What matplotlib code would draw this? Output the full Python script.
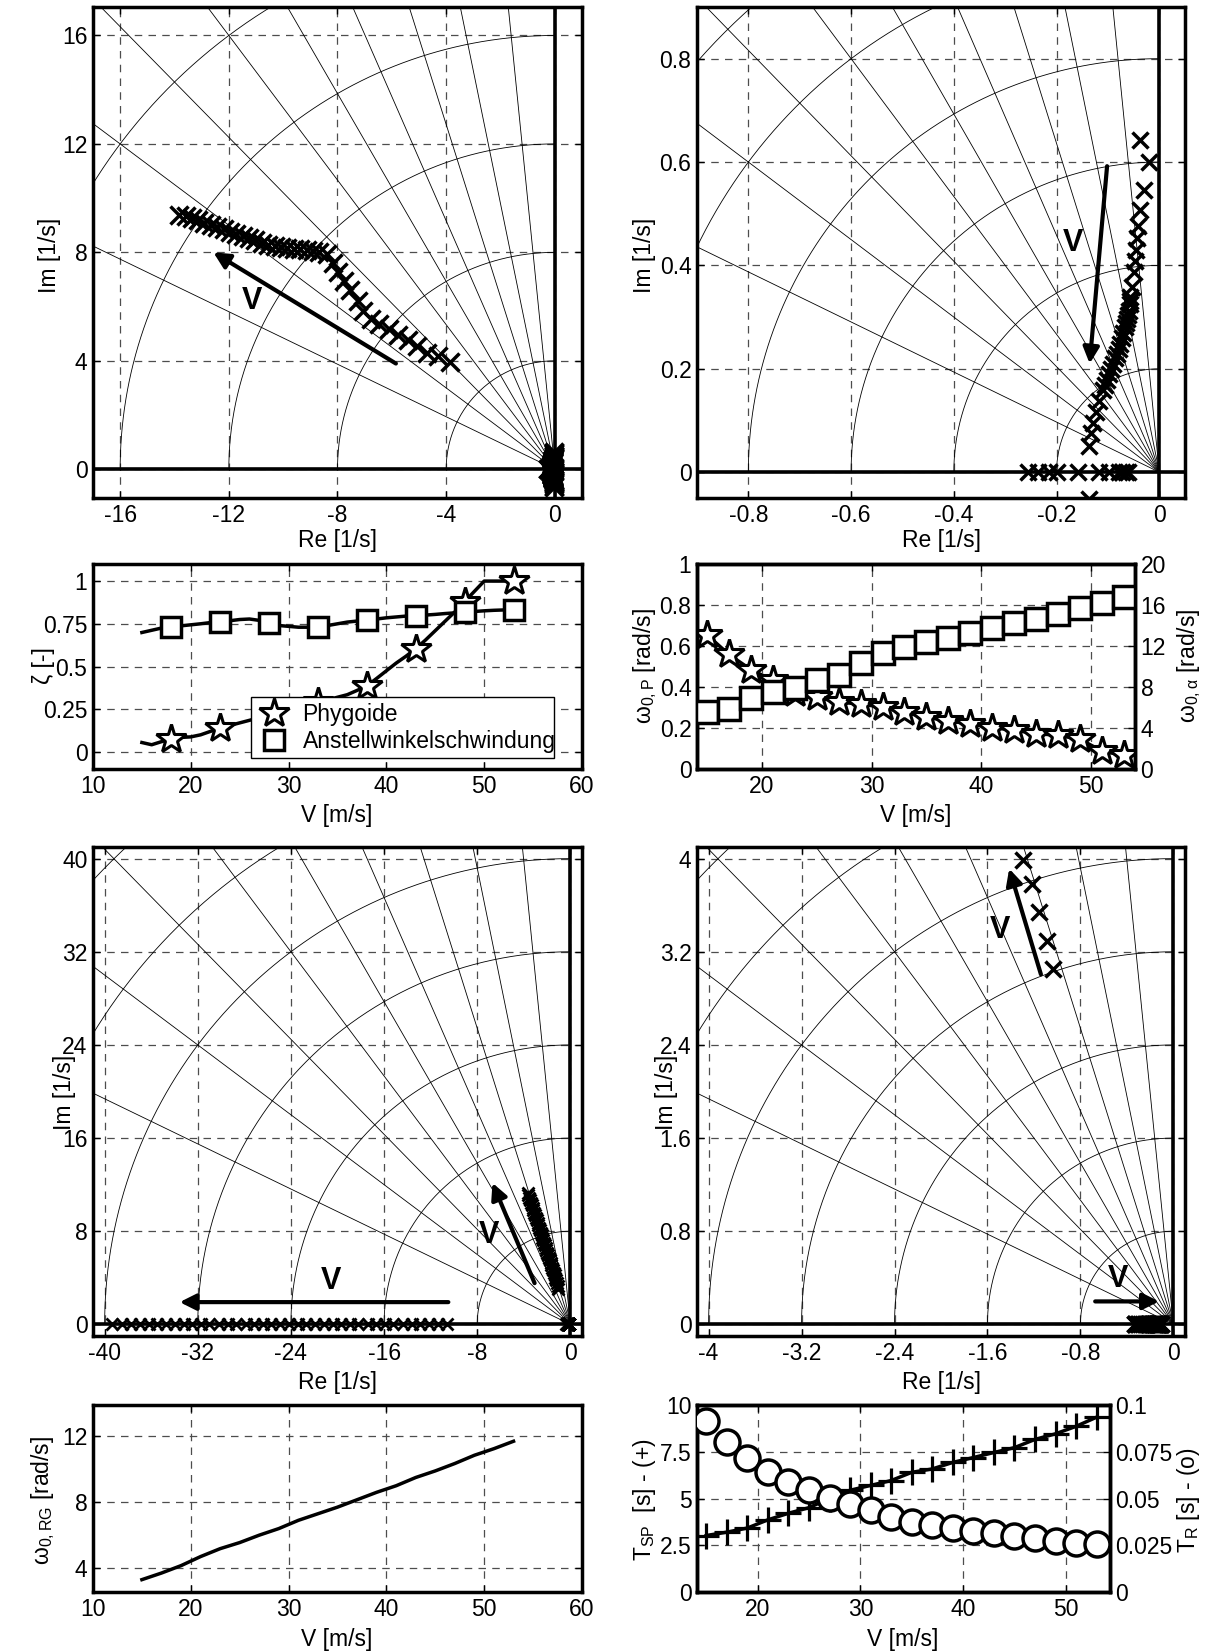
import numpy as np
import matplotlib
matplotlib.use("Agg")
import matplotlib.pyplot as plt
from matplotlib.lines import Line2D

plt.rcParams['font.family'] = ['Liberation Sans', 'DejaVu Sans']
plt.rcParams['mathtext.fontset'] = 'custom'
plt.rcParams['mathtext.rm'] = 'Liberation Sans'
plt.rcParams['mathtext.it'] = 'Liberation Sans:italic'
plt.rcParams['mathtext.sf'] = 'Liberation Sans'
FS = 16.5
plt.rcParams['font.size'] = FS

# ---------------- data ----------------
# flight speeds of the root-locus sweep (1 m/s steps) and of the summary plots (2 m/s steps)
v_locus = list(range(15, 54))
v_coarse = list(range(15, 54, 2))

# short-period (angle of attack) poles, upper half plane
aoa_re = [-3.86, -4.29, -4.71, -5.06, -5.42, -5.77, -6.12, -6.48, -6.76, -7.05,
          -7.26, -7.54, -7.75, -7.97, -8.18, -8.39, -8.67, -8.91, -9.14, -9.38,
          -9.61, -9.85, -10.09, -10.31, -10.55, -10.78, -11.02, -11.25, -11.49, -11.73,
          -11.96, -12.19, -12.42, -12.66, -12.90, -13.12, -13.37, -13.59, -13.84]
aoa_im = [3.97, 4.17, 4.30, 4.56, 4.76, 4.96, 5.16, 5.36, 5.56, 5.82,
          6.22, 6.62, 6.94, 7.28, 7.61, 7.94, 8.03, 8.06, 8.08, 8.11,
          8.14, 8.16, 8.20, 8.23, 8.28, 8.36, 8.44, 8.52, 8.60, 8.68,
          8.76, 8.85, 8.93, 9.01, 9.10, 9.18, 9.26, 9.33, 9.39]

# phugoid poles (complex branch, upper half plane) and real poles after the split
phug_re = [-0.038, -0.020, -0.030, -0.038, -0.041, -0.043, -0.045, -0.047, -0.049, -0.053,
           -0.0565, -0.0573, -0.058, -0.0595, -0.061, -0.0625, -0.065, -0.067, -0.070, -0.073,
           -0.076, -0.079, -0.083, -0.087, -0.090, -0.094, -0.098, -0.102, -0.106, -0.109,
           -0.117, -0.124, -0.130, -0.133, -0.136]
phug_im = [0.643, 0.601, 0.545, 0.507, 0.477, 0.453, 0.429, 0.408, 0.387, 0.359,
           0.339, 0.332, 0.325, 0.311, 0.304, 0.297, 0.288, 0.280, 0.270, 0.259,
           0.248, 0.238, 0.229, 0.221, 0.210, 0.200, 0.190, 0.179, 0.168, 0.158,
           0.137, 0.117, 0.096, 0.075, 0.051]
phug_real = [-0.256, -0.237, -0.215, -0.200, -0.158, -0.117, -0.098, -0.079, -0.072, -0.065, -0.060]

# lateral motion: roll subsidence, Dutch roll (upper half plane), spiral
roll_re = [-10.6, -11.4, -12.1, -12.9, -13.6, -14.4, -15.2, -15.9, -16.7, -17.4,
           -18.2, -18.9, -19.7, -20.4, -21.2, -21.9, -22.7, -23.4, -24.2, -24.9,
           -25.7, -26.4, -27.2, -27.9, -28.7, -29.4, -30.2, -31.0, -31.7, -32.5,
           -33.2, -34.0, -34.7, -35.5, -36.2, -37.0, -37.7, -38.5, -39.4]
dr_re = [-1.04, -1.09, -1.16, -1.22, -1.29, -1.35, -1.42, -1.49, -1.56, -1.63,
         -1.70, -1.77, -1.84, -1.91, -1.98, -2.05, -2.12, -2.19, -2.26, -2.33,
         -2.40, -2.47, -2.54, -2.61, -2.68, -2.75, -2.82, -2.89, -2.96, -3.03,
         -3.10, -3.17, -3.24, -3.31, -3.38, -3.45, -3.52, -3.60, -3.68]
dr_im = [3.05, 3.29, 3.54, 3.78, 3.99, 4.20, 4.42, 4.63, 4.85, 5.06,
         5.28, 5.49, 5.70, 5.92, 6.13, 6.35, 6.56, 6.78, 6.99, 7.21,
         7.42, 7.64, 7.85, 8.07, 8.28, 8.50, 8.71, 8.93, 9.14, 9.36,
         9.57, 9.79, 10.00, 10.22, 10.43, 10.65, 10.86, 11.08, 11.30]
spiral_re = [-0.333, -0.328, -0.323, -0.308, -0.294, -0.278, -0.260, -0.247, -0.238, -0.230,
             -0.222, -0.211, -0.200, -0.192, -0.183, -0.179, -0.175, -0.171, -0.168, -0.161,
             -0.156, -0.154, -0.152, -0.148, -0.144, -0.142, -0.139, -0.136, -0.134, -0.132,
             -0.129, -0.126, -0.123, -0.120, -0.118, -0.116, -0.113, -0.110, -0.106]

# damping ratios over speed (1 m/s steps)
zeta_phug = [0.055, 0.042, 0.060, 0.075, 0.085, 0.088, 0.100, 0.120, 0.139, 0.155,
             0.170, 0.185, 0.200, 0.215, 0.230, 0.245, 0.260, 0.275, 0.290, 0.305,
             0.320, 0.335, 0.360, 0.386, 0.430, 0.475, 0.520, 0.560, 0.604, 0.655,
             0.710, 0.765, 0.820, 0.880, 0.940, 1.000, 1.000, 1.000, 1.000]
zeta_aoa = [0.699, 0.712, 0.725, 0.733, 0.738, 0.744, 0.750, 0.757, 0.762, 0.768,
            0.775, 0.778, 0.770, 0.752, 0.740, 0.735, 0.730, 0.730, 0.733, 0.740,
            0.750, 0.760, 0.766, 0.772, 0.778, 0.785, 0.790, 0.795, 0.798, 0.801,
            0.805, 0.810, 0.814, 0.818, 0.822, 0.826, 0.829, 0.831, 0.832]

# natural frequencies and time constants (2 m/s steps)
omega_phug = [0.655, 0.559, 0.485, 0.433, 0.372, 0.350, 0.326, 0.317, 0.301, 0.276,
              0.252, 0.235, 0.219, 0.202, 0.189, 0.173, 0.164, 0.145, 0.087, 0.066]
omega_aoa = [5.53, 5.86, 6.91, 7.50, 7.89, 8.65, 9.21, 10.30, 11.28, 11.94,
             12.43, 12.76, 13.26, 13.75, 14.24, 14.67, 15.13, 15.66, 16.22, 16.78]
omega_dr = [3.30, 3.70, 4.15, 4.70, 5.18, 5.55, 6.00, 6.40, 6.90, 7.30,
            7.70, 8.15, 8.60, 9.00, 9.50, 9.90, 10.35, 10.85, 11.25, 11.70]
t_spiral = [3.02, 3.20, 3.42, 3.86, 4.21, 4.51, 5.00, 5.44, 5.70, 5.96,
            6.40, 6.58, 6.93, 7.19, 7.46, 7.72, 8.16, 8.46, 8.86, 9.35]
t_roll = [0.0915, 0.0800, 0.0715, 0.0640, 0.0590, 0.0545, 0.0505, 0.0470, 0.0440, 0.0400,
          0.0375, 0.0360, 0.0340, 0.0325, 0.0315, 0.0300, 0.0290, 0.0275, 0.0260, 0.0255]

zeta_grid_values = [0.1, 0.2, 0.3, 0.4, 0.5, 0.6, 0.7, 0.8, 0.9]

# ---------------- figure ----------------
W, H = 1207, 1651
fig = plt.figure(figsize=(W / 100, H / 100), dpi=100)


def add_ax(l, r, t, b):
    return fig.add_axes([l / W, 1 - b / H, (r - l) / W, (b - t) / H])


def frame(ax, right_ticks=True):
    for s in ax.spines.values():
        s.set_linewidth(2.5)
    ax.tick_params(direction='in', length=5, width=1, top=True, right=right_ticks,
                   labelsize=FS, pad=4)


def dashed_grid(ax):
    ax.grid(True, color='0.3', linestyle=(0, (6, 5)), linewidth=0.9)
    ax.set_axisbelow(True)


def label_at(ax, which, px, py):
    """Centre an axis label on a figure pixel position."""
    l, b, w, h = ax.get_position().bounds
    fx, fy = px / W, 1 - py / H
    ax_x = (fx - l) / w
    ax_y = (fy - b) / h
    if which == 'x':
        ax.xaxis.set_label_coords(ax_x, ax_y)
        ax.xaxis.label.set_verticalalignment('center')
    else:
        ax.yaxis.set_label_coords(ax_x, ax_y)
        ax.yaxis.label.set_verticalalignment('center')


def root_locus_axes(ax, xlim, ylim, step, xticks, yticks, xfmt, yfmt):
    xmin = xlim[0]
    reach = 3 * max(abs(xmin), ylim[1])
    for z in zeta_grid_values:
        th = np.arccos(z)
        ax.plot([0, -reach * np.cos(th)], [0, reach * np.sin(th)], color='k', lw=0.6, zorder=1)
    phi = np.linspace(np.pi / 2, np.pi, 300)
    k = 1
    while k * step < np.hypot(xmin, ylim[1]):
        r = k * step
        ax.plot(r * np.cos(phi), r * np.sin(phi), color='k', lw=0.6, zorder=1)
        k += 1
    ax.axhline(0, color='k', lw=2.6, zorder=2)
    ax.axvline(0, color='k', lw=2.6, zorder=2)
    ax.set_xlim(*xlim)
    ax.set_ylim(*ylim)
    ax.set_xticks(xticks)
    ax.set_yticks(yticks)
    ax.set_xticklabels([xfmt(v) for v in xticks])
    ax.set_yticklabels([yfmt(v) for v in yticks])
    dashed_grid(ax)
    frame(ax)
    ax.set_xlabel('Re [1/s]', fontsize=FS)
    ax.set_ylabel('Im [1/s]', fontsize=FS)


def arrow(ax, tail, head, text, text_xy):
    ax.annotate('', xy=head, xytext=tail,
                arrowprops=dict(arrowstyle='-|>', color='k', lw=3.0, mutation_scale=24,
                                shrinkA=0, shrinkB=0), zorder=6)
    ax.text(text_xy[0], text_xy[1], text, fontsize=22, fontweight='bold',
            ha='center', va='center', zorder=6)


def fmt_int(v):
    return '%d' % round(v)


def fmt_g(v):
    return '0' if abs(v) < 1e-12 else ('%g' % v)


xmark = dict(linestyle='none', marker='x', color='k', zorder=5)

# ---- top left: short period ----
ax1 = add_ax(93, 582, 7, 498)
root_locus_axes(ax1, (-17, 1), (-1.06, 17.05), 4, [-16, -12, -8, -4, 0], [0, 4, 8, 12, 16],
                fmt_int, fmt_int)
ax1.plot(aoa_re, aoa_im, ms=13, mew=2.5, **xmark)
ax1.plot(phug_re + phug_re + phug_real,
         phug_im + [-v for v in phug_im] + [0] * len(phug_real), ms=13, mew=2.5, **xmark)
arrow(ax1, (-5.85, 3.90), (-12.57, 8.0), 'V', (-11.16, 6.21))
label_at(ax1, 'y', 49, 255)
label_at(ax1, 'x', 337, 540)

# ---- top right: phugoid ----
ax2 = add_ax(697, 1185, 7, 498)
root_locus_axes(ax2, (-0.9, 0.05), (-0.05, 0.9), 0.2, [-0.8, -0.6, -0.4, -0.2, 0],
                [0, 0.2, 0.4, 0.6, 0.8], fmt_g, fmt_g)
ax2.plot(phug_re + phug_re + phug_real,
         phug_im + [-v for v in phug_im] + [0] * len(phug_real), ms=12, mew=2.5, **xmark)
arrow(ax2, (-0.1017, 0.592), (-0.1356, 0.210), 'V', (-0.168, 0.443))
label_at(ax2, 'y', 645, 255)
label_at(ax2, 'x', 941, 540)

# ---- second row left: damping ratios ----
ax5 = add_ax(93, 582, 564, 769)
ax5.plot(v_locus, zeta_phug, color='k', lw=2.5, marker='*', ms=22, mfc='w', mec='k', mew=2.2,
         markevery=slice(3, None, 5), zorder=4)
ax5.plot(v_locus, zeta_aoa, color='k', lw=2.5, marker='s', ms=15, mfc='w', mec='k', mew=2.5,
         markevery=slice(3, None, 5), zorder=4)
ax5.set_xlim(10, 60)
ax5.set_ylim(-0.1, 1.1)
ax5.set_xticks([10, 20, 30, 40, 50, 60])
ax5.set_yticks([0, 0.25, 0.5, 0.75, 1])
ax5.set_yticklabels(['0', '0.25', '0.5', '0.75', '1'])
dashed_grid(ax5)
frame(ax5)
ax5.set_xlabel('V [m/s]', fontsize=FS)
ax5.set_ylabel('ζ [-]', fontsize=FS)
label_at(ax5, 'y', 44, 666)
label_at(ax5, 'x', 337, 815)
handles = [Line2D([], [], ls='none', marker='*', ms=22, mfc='w', mec='k', mew=2.2),
           Line2D([], [], ls='none', marker='s', ms=15, mfc='w', mec='k', mew=2.5)]
leg = ax5.legend(handles, ['Phygoide', 'Anstellwinkelschwindung'], loc='lower left',
                 bbox_to_anchor=(0.323, 0.052, 0.619, 0.311), mode='expand', borderaxespad=0,
                 fontsize=FS, frameon=True, fancybox=False, edgecolor='k', framealpha=1,
                 handletextpad=0.5, labelspacing=0.15, borderpad=0.25, handlelength=1.5)
leg.get_frame().set_linewidth(1.0)
leg.set_zorder(10)

# ---- second row right: natural frequencies ----
ax6 = add_ax(697, 1135, 564, 769)
ax6.plot(v_coarse, omega_phug, color='k', lw=2.5, marker='*', ms=22, mfc='w', mec='k', mew=2.2,
         zorder=4)
ax6.set_xlim(14.1, 54)
ax6.set_ylim(0, 1)
ax6.set_xticks([20, 30, 40, 50])
ax6.set_yticks([0, 0.2, 0.4, 0.6, 0.8, 1])
ax6.set_yticklabels(['0', '0.2', '0.4', '0.6', '0.8', '1'])
dashed_grid(ax6)
frame(ax6, right_ticks=False)
ax6.set_xlabel('V [m/s]', fontsize=FS)
ax6.set_ylabel(r'ω$_{\mathregular{0,P}}$ [rad/s]', fontsize=FS)
label_at(ax6, 'y', 645, 666)
label_at(ax6, 'x', 916, 815)
ax6b = ax6.twinx()
ax6b.plot(v_coarse, omega_aoa, color='k', lw=2.5, marker='s', ms=16, mfc='w', mec='k', mew=2.5,
          zorder=4)
ax6b.set_ylim(0, 20)
ax6b.set_yticks([0, 4, 8, 12, 16, 20])
for s in ax6b.spines.values():
    s.set_linewidth(2.5)
ax6b.tick_params(direction='in', length=5, width=1, labelsize=FS, pad=4)
ax6b.set_ylabel(r'ω$_{\mathregular{0,α}}$ [rad/s]', fontsize=FS, rotation=90)
label_at(ax6b, 'y', 1189, 666)

# ---- third row left: lateral motion overview ----
ax3 = add_ax(93, 582, 847, 1336)
root_locus_axes(ax3, (-41, 1), (-1, 41), 8, [-40, -32, -24, -16, -8, 0], [0, 8, 16, 24, 32, 40],
                fmt_int, fmt_int)
ax3.plot(roll_re, [0] * len(roll_re), ms=8, mew=2.0, **xmark)
ax3.plot(dr_re, dr_im, ms=9, mew=2.0, **xmark)
ax3.plot(spiral_re, [0] * len(spiral_re), ms=9, mew=2.0, **xmark)
arrow(ax3, (-10.48, 1.91), (-33.56, 1.91), 'V', (-20.54, 3.69))
arrow(ax3, (-3.07, 3.54), (-6.69, 12.15), 'V', (-7.02, 7.69))
label_at(ax3, 'y', 64, 1092)
label_at(ax3, 'x', 337, 1382)

# ---- third row right: lateral motion near origin ----
ax4 = add_ax(697, 1185, 847, 1336)
root_locus_axes(ax4, (-4.1, 0.1), (-0.1, 4.1), 0.8, [-4, -3.2, -2.4, -1.6, -0.8, 0],
                [0, 0.8, 1.6, 2.4, 3.2, 4], fmt_g, fmt_g)
ax4.plot(dr_re, dr_im, ms=12, mew=2.5, **xmark)
ax4.plot(spiral_re, [0] * len(spiral_re), ms=12, mew=2.5, **xmark)
arrow(ax4, (-1.14, 3.006), (-1.413, 3.914), 'V', (-1.49, 3.39))
arrow(ax4, (-0.673, 0.197), (-0.123, 0.197), 'V', (-0.473, 0.39))
label_at(ax4, 'y', 667, 1092)
label_at(ax4, 'x', 941, 1382)

# ---- bottom left: Dutch roll frequency ----
ax7 = add_ax(93, 582, 1405, 1592)
ax7.plot(v_coarse, omega_dr, color='k', lw=2.5, zorder=4)
ax7.set_xlim(10, 60)
ax7.set_ylim(2.55, 13.9)
ax7.set_xticks([10, 20, 30, 40, 50, 60])
ax7.set_yticks([4, 8, 12])
dashed_grid(ax7)
frame(ax7)
ax7.set_xlabel('V [m/s]', fontsize=FS)
ax7.set_ylabel(r'ω$_{\mathregular{0,RG}}$ [rad/s]', fontsize=FS)
label_at(ax7, 'y', 43, 1500)
label_at(ax7, 'x', 337, 1639)

# ---- bottom right: spiral and roll time constants ----
ax8 = add_ax(697, 1110, 1405, 1592)
ax8.plot(v_coarse, t_spiral, color='k', lw=2.5, marker='+', ms=19, mew=2.3, zorder=4)
ax8.set_xlim(14.1, 54.3)
ax8.set_ylim(0, 10)
ax8.set_xticks([20, 30, 40, 50])
ax8.set_yticks([0, 2.5, 5, 7.5, 10])
ax8.set_yticklabels(['0', '2.5', '5', '7.5', '10'])
dashed_grid(ax8)
frame(ax8, right_ticks=False)
ax8.set_xlabel('V [m/s]', fontsize=FS)
ax8.set_ylabel(r'T$_{\mathregular{SP}}$  [s] - (+)', fontsize=FS)
label_at(ax8, 'y', 645, 1500)
label_at(ax8, 'x', 903, 1639)
ax8b = ax8.twinx()
ax8b.plot(v_coarse, t_roll, ls='none', marker='o', ms=18, mfc='w', mec='k', mew=2.5, zorder=4)
ax8b.set_ylim(0, 0.1)
ax8b.set_yticks([0, 0.025, 0.05, 0.075, 0.1])
ax8b.set_yticklabels(['0', '0.025', '0.05', '0.075', '0.1'])
for s in ax8b.spines.values():
    s.set_linewidth(2.5)
ax8b.tick_params(direction='in', length=5, width=1, labelsize=FS, pad=4)
ax8b.set_ylabel(r'T$_{\mathregular{R}}$ [s] - (o)', fontsize=FS, rotation=90)
label_at(ax8b, 'y', 1188, 1500)

fig.savefig('out.png', dpi=100, facecolor='white')
